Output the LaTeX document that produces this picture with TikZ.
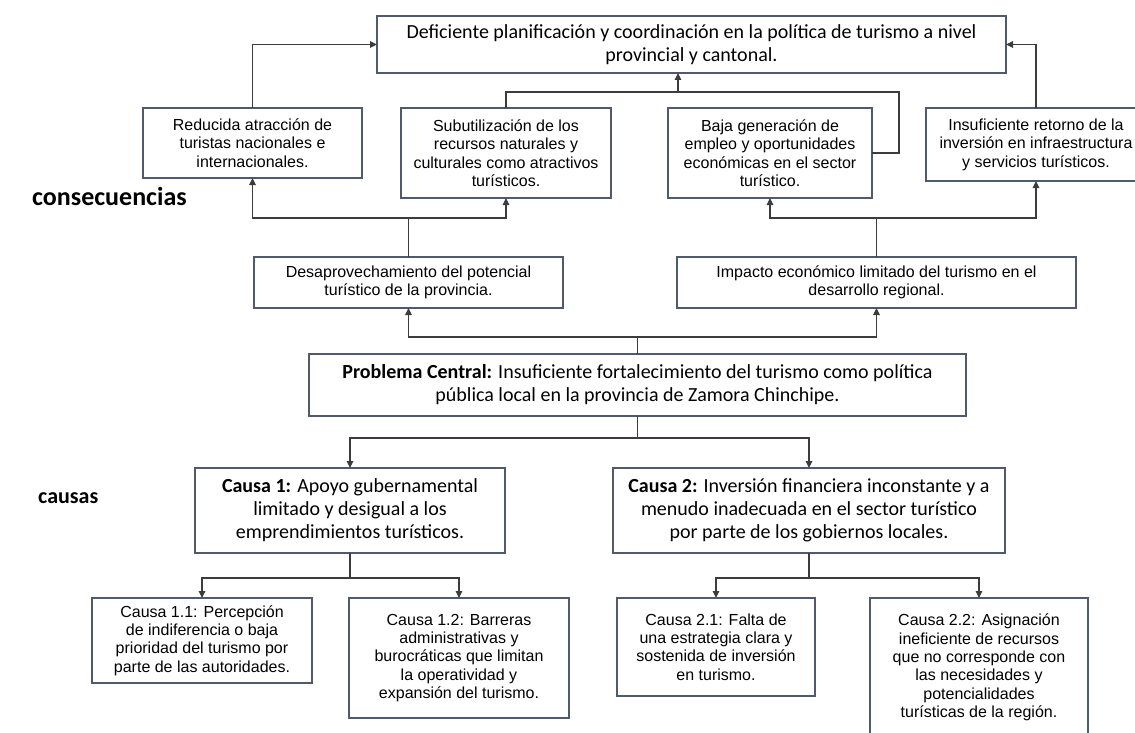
\documentclass[tikz,border=0pt]{standalone}
\usepackage{fontspec}
\setmainfont{Liberation Sans}
\newfontfamily\calibri{Carlito}
\usetikzlibrary{arrows.meta}
\definecolor{bordercol}{HTML}{4F5B6D}
\definecolor{linecol}{HTML}{3C3C3C}
\newcommand\mkbox[7]{%
  \pgfmathsetmacro\mbW{#4-#2}\pgfmathsetmacro\mbH{#5-#3}%
  \pgfmathsetmacro\mbX{(#4+#2)/2}\pgfmathsetmacro\mbY{(#5+#3)/2}%
  \node[#6, minimum width=\mbW pt, minimum height=\mbH pt] (#1) at (\mbX,\mbY) {#7};}
\begin{document}
\begin{tikzpicture}[x=1pt,y=-1pt,
  box/.style={draw=bordercol, line width=1.1pt, fill=white, inner sep=0pt, outer sep=0pt,
    align=center, font=\fontsize{16}{18.4}\selectfont},
  cbox/.style={box, font=\calibri\fontsize{20}{23}\selectfont},
  lbl/.style={font=\calibri\bfseries\fontsize{26}{30}\selectfont, anchor=base west, inner sep=0pt},
  conn/.style={draw=linecol, line width=1.1pt},
  arr/.style={conn, -{Triangle[length=7pt,width=6.5pt]}}]
\fill[white] (0,0) rectangle (1135,733);
\useasboundingbox (0,0) rectangle (1135,733);

% consequences
\mkbox{top}{377}{16}{1006}{73}{cbox}{Deficiente planificación y coordinación en la política de turismo a nivel\\provincial y cantonal.}
\mkbox{red}{143}{108}{362}{178}{box}{Reducida atracción de\\turistas nacionales e\\internacionales.}
\mkbox{sub}{401}{108}{611}{198}{box}{Subutilización de los\\recursos naturales y\\culturales como atractivos\\turísticos.}
\mkbox{baja}{668}{108}{872}{198}{box}{Baja generación de\\empleo y oportunidades\\económicas en el sector\\turístico.}
\mkbox{ins}{926}{108}{1146}{181}{box}{Insuficiente retorno de la\\inversión en infraestructura\\y servicios turísticos.}
\mkbox{desap}{254}{257}{563}{308}{box}{Desaprovechamiento del potencial\\turístico de la provincia.}
\mkbox{imp}{677}{257}{1076}{308}{box}{Impacto económico limitado del turismo en el\\desarrollo regional.}

% central problem
\mkbox{prob}{309}{354}{966}{416}{cbox}{\textbf{Problema Central:} Insuficiente fortalecimiento del turismo como política\\pública local en la provincia de Zamora Chinchipe.}

% causes
\mkbox{c1}{195}{468}{505}{553}{cbox}{\textbf{Causa 1:} Apoyo gubernamental\\limitado y desigual a los\\emprendimientos turísticos.}
\mkbox{c2}{613}{468}{1005}{553}{cbox}{\textbf{Causa 2:} Inversión financiera inconstante y a\\menudo inadecuada en el sector turístico\\por parte de los gobiernos locales.}
\mkbox{c11}{92}{598}{312}{683}{box}{Causa 1.1: Percepción\\de indiferencia o baja\\prioridad del turismo por\\parte de las autoridades.}
\mkbox{c12}{349}{598}{569}{718}{box}{Causa 1.2: Barreras\\administrativas y\\burocráticas que limitan\\la operatividad y\\expansión del turismo.}
\mkbox{c21}{617}{598}{815}{696}{box}{Causa 2.1: Falta de\\una estrategia clara y\\sostenida de inversión\\en turismo.}
\mkbox{c22}{870}{598}{1088}{737}{box}{Causa 2.2: Asignación\\ineficiente de recursos\\que no corresponde con\\las necesidades y\\potencialidades\\turísticas de la región.}

% side labels
\node[lbl] (lcons) at (32,205) {consecuencias};
\node[lbl, font=\calibri\bfseries\fontsize{22}{26}\selectfont] (lcaus) at (38,503) {causas};

% connectors
\coordinate (jr) at (899,92);
\coordinate (ja) at (678,92);
\draw[arr] (red.north) |- (top.west);
\draw[arr] (ins.north) |- (top.east);
\draw[conn] (sub.north) |- (jr) |- (baja.east);
\draw[arr] (ja) -- (ja |- top.south);

\draw[arr] (desap.north) -- ++(0,-39) -| (red.south);
\draw[arr] (desap.north) -- ++(0,-39) -| (sub.south);
\draw[arr] (imp.north) -- ++(0,-39) -| (baja.south);
\draw[arr] (imp.north) -- ++(0,-39) -| (ins.south);

\draw[arr] (prob.north) -- ++(0,-17) -| (desap.south);
\draw[arr] (prob.north) -- ++(0,-17) -| (imp.south);

\draw[arr] (prob.south) -- ++(0,22) -| (c1.north);
\draw[arr] (prob.south) -- ++(0,22) -| (c2.north);

\draw[arr] (c1.south) -- ++(0,25) -| (c11.north);
\draw[arr] (c1.south) -- ++(0,25) -| (c12.north);
\draw[arr] (c2.south) -- ++(0,25) -| (c21.north);
\draw[arr] (c2.south) -- ++(0,25) -| (c22.north);
\end{tikzpicture}
\end{document}
